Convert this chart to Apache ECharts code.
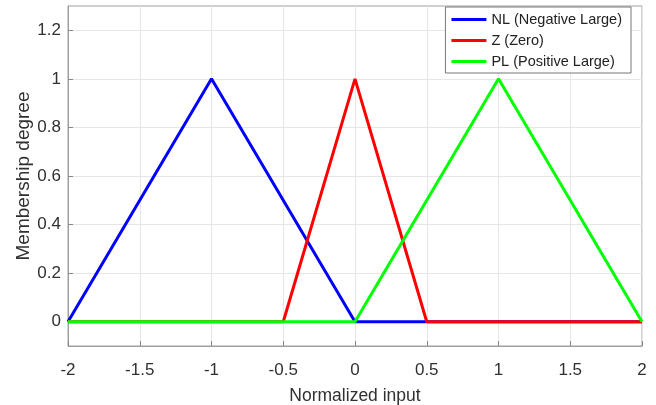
<!DOCTYPE html>
<html><head><meta charset="utf-8">
<script src="https://cdn.jsdelivr.net/npm/echarts@6/dist/echarts.min.js"></script>
<style>html,body{margin:0;padding:0;background:#fff}#c{width:656px;height:405px}</style>
</head><body><div id="c"></div>
<script>
const xTicks = [-2,-1.5,-1,-0.5,0,0.5,1,1.5,2];
const yTicks = [0,0.2,0.4,0.6,0.8,1,1.2];
const nl = [[-2,0],[-1,1],[0,0],[2,0]];
const z = [[-2,0],[-0.5,0],[0,1],[0.5,0],[2,0]];
const pl = [[-2,0],[0,0],[1,1],[2,0]];
const names = ['NL (Negative Large)','Z (Zero)','PL (Positive Large)'];
const colors = ['#0000ff','#ff0000','#00ff00'];
const font = 'Liberation Sans, Arial, sans-serif';
const chart = echarts.init(document.getElementById('c'));
const axCol = '#303030';
chart.setOption({
  animation:false,
  textStyle:{fontFamily:font},
  grid:{left:68,right:14,top:6,bottom:59,show:true,borderColor:'#a0a0a0',borderWidth:1,
    containLabel:false,outerBoundsMode:'none'},
  legend:{orient:'vertical',right:25,top:7,data:names,itemWidth:35,itemHeight:3,itemGap:6,
    borderColor:'#777',borderWidth:1,backgroundColor:'#fff',padding:[5,9,4,6],
    textStyle:{fontFamily:font,fontSize:14.5,color:'#222'},icon:'rect'},
  xAxis:{type:'value',min:-2,max:2,interval:0.5,name:'Normalized input',nameLocation:'middle',nameGap:41,
    nameMoveOverlap:false,
    nameTextStyle:{fontSize:17.5,color:axCol,fontFamily:font},
    axisLine:{show:true,onZero:false,lineStyle:{color:'#a0a0a0'}},
    axisTick:{show:true,inside:true,length:5,lineStyle:{color:'#888'},customValues:xTicks},
    axisLabel:{fontSize:17,color:axCol,margin:16,fontFamily:font,customValues:xTicks},
    splitLine:{show:true,lineStyle:{color:'#e6e6e6'}}},
  yAxis:{type:'value',min:-0.1,max:1.3,name:'Membership degree',nameLocation:'middle',nameGap:35,
    nameMoveOverlap:false,
    nameTextStyle:{fontSize:19,color:axCol,fontFamily:font},
    axisLine:{show:true,onZero:false,lineStyle:{color:'#a0a0a0'}},
    axisTick:{show:true,inside:true,length:5,lineStyle:{color:'#888'},customValues:yTicks},
    axisLabel:{fontSize:17,color:axCol,margin:7,fontFamily:font,customValues:yTicks},
    splitLine:{show:true,lineStyle:{color:'#e6e6e6'}}},
  series:[nl,z,pl].map((d,i)=>({type:'line',name:names[i],data:d,symbol:'none',
    lineStyle:{width:3,color:colors[i]},itemStyle:{color:colors[i]}}))
});
</script></body></html>
